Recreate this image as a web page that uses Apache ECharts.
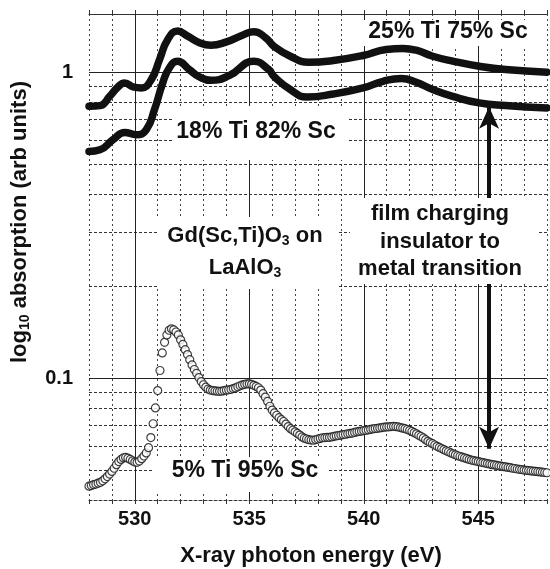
<!DOCTYPE html>
<html><head><meta charset="utf-8">
<script src="https://cdn.jsdelivr.net/npm/echarts@6/dist/echarts.min.js"></script>
<style>html,body{margin:0;padding:0;background:#fff}#c{width:550px;height:569px}</style>
</head><body><div id="c"></div>
<script>
// ---- axis ticks ----
const xTickLabels = [530, 535, 540, 545];
const xMajorLines = [530, 535, 540, 545];
const yTickLabels = [0.1, 1];
const yMajorLines = [0.1, 1];
const yMinorLines = [0.04, 0.05, 0.06, 0.07, 0.08, 0.09, 0.2, 0.3, 0.4, 0.5, 0.6, 0.7, 0.8, 0.9];

// ---- 25% Ti 75% Sc (thick line) ----
const energyTi25 = [528.0, 528.48, 528.91, 529.27, 529.56, 529.92, 530.29, 530.72, 531.08, 531.44, 531.87, 532.31, 532.82, 533.32, 533.97, 534.7, 535.2, 535.71, 536.07, 536.79, 537.59, 538.67, 539.97, 540.98, 541.71, 542.29, 543.01, 543.88, 545.04, 546.19, 548.0];
const absTi25 = [0.774, 0.778, 0.835, 0.896, 0.923, 0.896, 0.889, 0.946, 1.10, 1.28, 1.363, 1.312, 1.249, 1.226, 1.254, 1.322, 1.357, 1.297, 1.217, 1.128, 1.078, 1.092, 1.134, 1.187, 1.196, 1.18, 1.128, 1.087, 1.046, 1.02, 1.0];

// ---- 18% Ti 82% Sc (thick line) ----
const energyTi18 = [528.0, 528.48, 529.05, 529.56, 530.07, 530.5, 530.86, 531.22, 531.51, 531.87, 532.38, 532.82, 533.32, 534.12, 535.2, 535.85, 536.07, 536.79, 537.51, 538.67, 539.97, 540.84, 541.64, 542.29, 543.01, 543.88, 545.04, 546.19, 548.0];
const absTi18 = [0.551, 0.558, 0.602, 0.636, 0.625, 0.649, 0.755, 0.923, 1.034, 1.086, 1.02, 0.966, 0.941, 0.975, 1.086, 1.02, 0.970, 0.878, 0.83, 0.849, 0.889, 0.934, 0.954, 0.927, 0.878, 0.834, 0.794, 0.778, 0.764];

// ---- 5% Ti 95% Sc (open circles), sampled every 0.1 eV from 528.0 ----
const energyTi5Start = 528.0;
const energyTi5Step = 0.1;
const absTi5 = [
 0.0444, 0.0446, 0.0449, 0.0451, 0.0454, 0.0457, 0.0462, 0.0469, 0.0477, 0.0486,
 0.0496, 0.0508, 0.0522, 0.0534, 0.0543, 0.0549, 0.0551, 0.0548, 0.0543, 0.0537,
 0.0532, 0.0531, 0.0536, 0.0546, 0.0557, 0.0570, 0.0593, 0.0640, 0.0710, 0.0800,
 0.0911, 0.1060, 0.1210, 0.1310, 0.1385, 0.1435, 0.1450, 0.1440, 0.1416, 0.1385,
 0.1335, 0.1290, 0.1240, 0.1195, 0.1150, 0.1105, 0.1068, 0.1038, 0.1005, 0.0975,
 0.0952, 0.0935, 0.0922, 0.0915, 0.0911, 0.0909, 0.0907, 0.0906, 0.0907, 0.0911,
 0.0914, 0.0917, 0.0920, 0.0925, 0.0930, 0.0938, 0.0945, 0.0951, 0.0955, 0.0958,
 0.0959, 0.0955, 0.0948, 0.0940, 0.0931, 0.0915, 0.0890, 0.0867, 0.0840, 0.0810,
 0.0787, 0.0770, 0.0757, 0.0743, 0.0732, 0.0722, 0.0708, 0.0695, 0.0684, 0.0676,
 0.0668, 0.0660, 0.0652, 0.0643, 0.0637, 0.0633, 0.0630, 0.0628, 0.0627, 0.0630,
 0.0633, 0.0636, 0.0639, 0.0640, 0.0641, 0.0641, 0.0643, 0.0646, 0.0648, 0.0650,
 0.0652, 0.0654, 0.0656, 0.0658, 0.0660, 0.0662, 0.0665, 0.0668, 0.0670, 0.0672,
 0.0674, 0.0676, 0.0678, 0.0681, 0.0683, 0.0685, 0.0686, 0.0688, 0.0690, 0.0692,
 0.0693, 0.0694, 0.0695, 0.0696, 0.0695, 0.0693, 0.0690, 0.0687, 0.0684, 0.0680,
 0.0675, 0.0670, 0.0664, 0.0658, 0.0651, 0.0645, 0.0638, 0.0630, 0.0622, 0.0616,
 0.0611, 0.0605, 0.0599, 0.0594, 0.0589, 0.0584, 0.0579, 0.0575, 0.0570, 0.0566,
 0.0562, 0.0558, 0.0555, 0.0552, 0.0549, 0.0546, 0.0543, 0.0540, 0.0538, 0.0536,
 0.0534, 0.0532, 0.0530, 0.0528, 0.0526, 0.0524, 0.0522, 0.0521, 0.0519, 0.0517,
 0.0516, 0.0514, 0.0513, 0.0511, 0.0510, 0.0508, 0.0507, 0.0505, 0.0504, 0.0503,
 0.0501, 0.0500, 0.0499, 0.0498, 0.0497, 0.0496, 0.0495, 0.0494, 0.0493, 0.0492,
 0.0491
];

// ---- double arrow ----
const arrowEnergy = 545.47;
const arrowTop = 0.772;
const arrowBottom = 0.0588;

const FONT = '"Liberation Sans", Arial, Helvetica, sans-serif';
const INK = '#111';

const ti25 = energyTi25.map((e, i) => [e, absTi25[i]]);
const ti18 = energyTi18.map((e, i) => [e, absTi18[i]]);
const ti5 = absTi5.map((v, i) => [+(energyTi5Start + i * energyTi5Step).toFixed(2), v]);

const chart = echarts.init(document.getElementById('c'), null, {renderer: 'canvas'});

function boxEl(x, y, w, h) {
  return {type: 'rect', z: 10, silent: true, shape: {x: x, y: y, width: w, height: h}, style: {fill: '#fff'}};
}
function textEl(x, y, text, size, extra) {
  return Object.assign({
    type: 'text', z: 11, silent: true, x: x, y: y,
    style: {
      text: text, fill: INK, fontSize: size, fontWeight: 'bold', fontFamily: FONT,
      align: 'center', verticalAlign: 'middle',
      rich: {
        s: {fontSize: Math.round(size * 0.65), fontWeight: 'bold', fontFamily: FONT, fill: INK,
            verticalAlign: 'bottom', padding: [Math.round(size * 0.45), 0, 0, 0]}
      }
    }
  }, extra || {});
}

const option = {
  animation: false,
  backgroundColor: '#fff',
  grid: {left: 89, right: 2, top: 14, bottom: 69, containLabel: false},
  xAxis: [{
    type: 'value', min: 528, max: 548, interval: 1, position: 'bottom',
    axisLine: {show: true, onZero: false, lineStyle: {color: '#333', width: 1, type: [3, 2]}},
    axisTick: {show: true, length: 4, lineStyle: {color: '#333', width: 1}},
    axisLabel: {
      margin: 9, color: INK, fontSize: 20, fontWeight: 'bold', fontFamily: FONT,
      formatter: function (v) {
        const r = Math.round(v);
        return (Math.abs(v - r) < 1e-6 && xTickLabels.indexOf(r) >= 0) ? String(r) : '';
      }
    },
    splitLine: {show: true, lineStyle: {color: '#444', width: 1, type: [2, 3]}}
  }, {
    type: 'value', min: 528, max: 548, interval: 1, position: 'top',
    axisLine: {show: true, onZero: false, lineStyle: {color: '#333', width: 1}},
    axisTick: {show: true, length: 4, lineStyle: {color: '#333', width: 1}},
    axisLabel: {show: false},
    splitLine: {show: false}
  }],
  yAxis: {
    type: 'log', logBase: 10, min: 0.04, max: 1.55,
    axisLine: {show: false}, axisTick: {show: false},
    splitLine: {show: false},
    axisLabel: {
      margin: 16, color: INK, fontSize: 20, fontWeight: 'bold', fontFamily: FONT,
      showMinLabel: false, showMaxLabel: false,
      formatter: function (v) {
        const r = Math.round(v * 1000) / 1000;
        return yTickLabels.indexOf(r) >= 0 ? String(r) : '';
      }
    }
  },
  series: [
    {
      name: 'grid', type: 'line', data: [], z: 1, silent: true,
      markLine: {
        silent: true, symbol: ['none', 'none'], label: {show: false}, animation: false,
        data: [].concat(
          yMinorLines.map(v => ({yAxis: v, lineStyle: {color: '#333', width: 1, type: [3, 2]}})),
          yMajorLines.map(v => ({yAxis: v, lineStyle: {color: '#222', width: 1, type: 'solid'}})),
          xMajorLines.map(v => ({xAxis: v, lineStyle: {color: '#222', width: 1, type: 'solid'}}))
        )
      }
    },
    {
      name: 'arrow', type: 'line', data: [], z: 5, silent: true,
      markLine: {
        silent: true, symbol: ['arrow', 'arrow'], symbolSize: [15, 22], label: {show: false}, animation: false,
        lineStyle: {color: INK, width: 4, type: 'solid'},
        data: [[{coord: [arrowEnergy, arrowTop]}, {coord: [arrowEnergy, arrowBottom]}]]
      }
    },
    {
      name: '25% Ti 75% Sc', type: 'line', data: ti25, z: 12, smooth: 0.5,
      showSymbol: false, lineStyle: {color: INK, width: 7.5, cap: 'round', join: 'round'}
    },
    {
      name: '18% Ti 82% Sc', type: 'line', data: ti18, z: 12, smooth: 0.5,
      showSymbol: false, lineStyle: {color: INK, width: 7.5, cap: 'round', join: 'round'}
    },
    {
      name: '5% Ti 95% Sc', type: 'scatter', data: ti5, z: 13, symbol: 'circle', symbolSize: 8,
      itemStyle: {color: '#fff', borderColor: '#111', borderWidth: 1.2}
    }
  ],
  graphic: {elements: [
    boxEl(362, 20, 172, 26),
    boxEl(173, 106, 174, 54),
    boxEl(157, 217, 180, 72),
    boxEl(350, 198, 188, 86),
    boxEl(152, 457, 176, 35),
    textEl(448, 32, '25% Ti 75% Sc', 23),
    textEl(256, 132, '18% Ti 82% Sc', 23),
    textEl(245, 471, '5% Ti 95% Sc', 23),
    textEl(245, 236, 'Gd(Sc,Ti)O{s|3} on', 22),
    textEl(245, 268, 'LaAlO{s|3}', 22),
    textEl(440, 214, 'film charging', 22),
    textEl(440, 242, 'insulator to', 22),
    textEl(440, 269, 'metal transition', 22),
    textEl(311, 556, 'X-ray photon energy (eV)', 22),
    textEl(20, 222, 'log{s|10} absorption (arb units)', 22, {rotation: Math.PI / 2})
  ]}
};
chart.setOption(option);
</script>
</body></html>
